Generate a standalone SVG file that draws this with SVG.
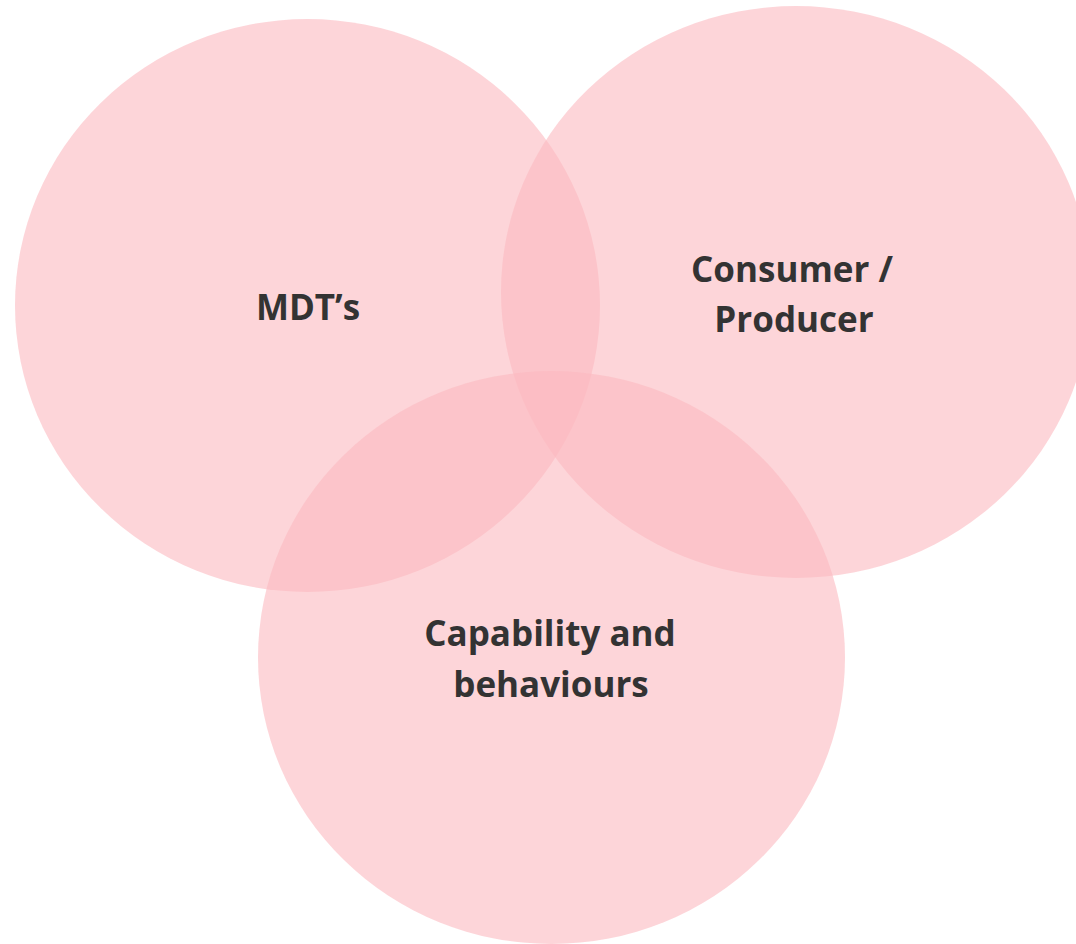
<svg xmlns="http://www.w3.org/2000/svg" width="1076" height="944" viewBox="0 0 1076 944">
<style>
.c{fill:#FCB9C0;fill-opacity:0.6}
.t{font-family:"Open Sans","Liberation Sans",sans-serif;font-weight:bold;font-size:35px;fill:#333333;text-anchor:middle}
</style>
<rect width="1076" height="944" fill="#FFFFFF"/>
<g id="node-mdts">
<ellipse class="c" cx="307.5" cy="305.5" rx="292.5" ry="286.5"/>
<text class="t" x="308" y="320">MDT’s</text>
</g>
<g id="node-consumer">
<ellipse class="c" cx="796" cy="292" rx="295" ry="286"/>
<text class="t" x="792" y="282">Consumer /</text>
<text class="t" x="794" y="332">Producer</text>
</g>
<g id="node-capability">
<ellipse class="c" cx="551.5" cy="657.5" rx="293.5" ry="286.5"/>
<text class="t" x="550" y="646">Capability and</text>
<text class="t" x="551" y="697">behaviours</text>
</g>
<g id="connectors"></g>
</svg>
